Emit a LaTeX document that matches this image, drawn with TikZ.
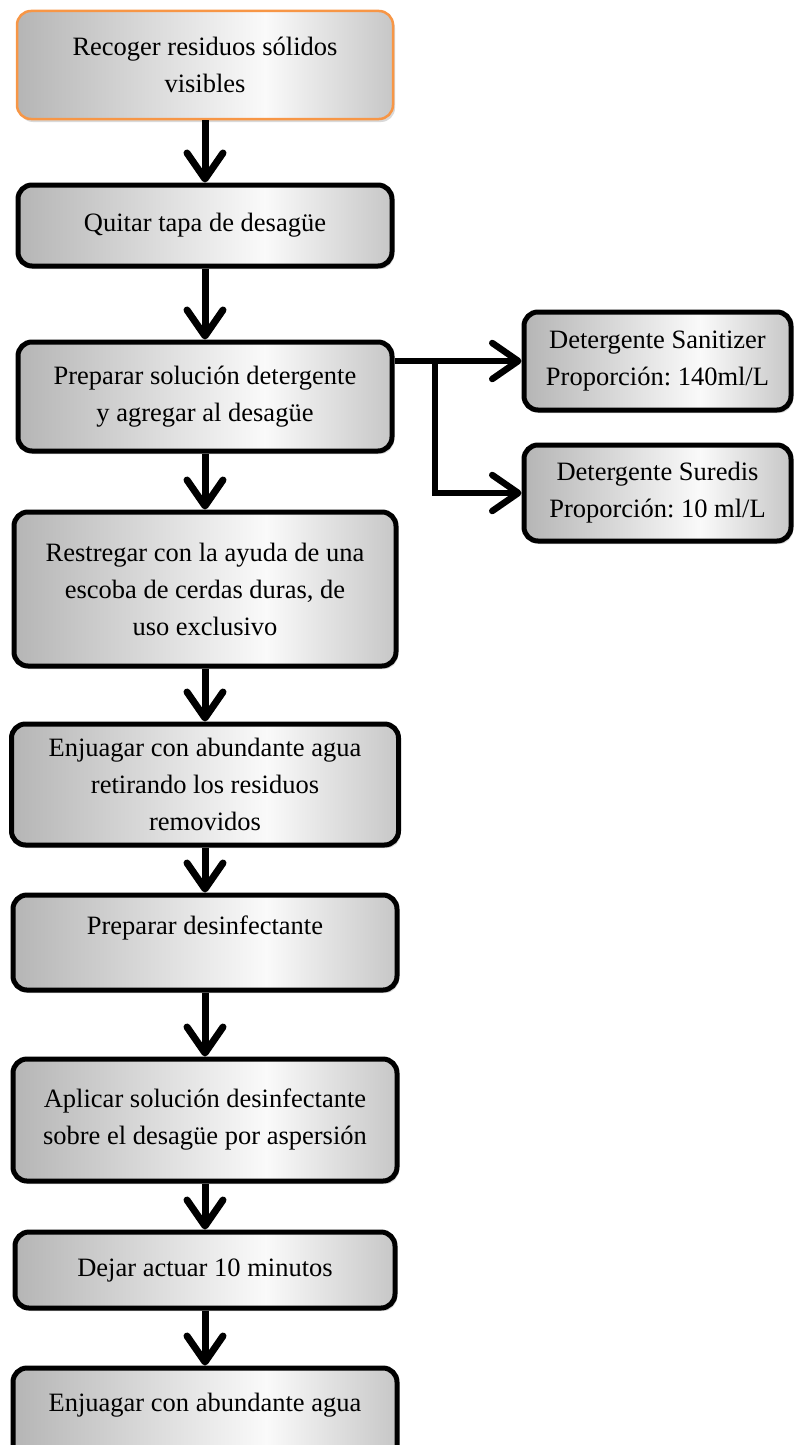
\documentclass[tikz,border=0pt]{standalone}
\usepackage{fontspec}
\setmainfont{Liberation Serif}
\usetikzlibrary{arrows.meta,shadows}
\definecolor{orangeborder}{RGB}{247,150,70}
\pgfdeclarehorizontalshading{metal}{100bp}{color(0bp)=(black!52); color(14bp)=(black!38); color(58bp)=(black!2); color(86bp)=(black!35); color(100bp)=(black!55)}
\frenchspacing
\begin{document}
\begin{tikzpicture}[x=1pt,y=-1pt,
  box/.style={draw=black,line width=5pt,rounded corners=14pt,shading=metal,
    drop shadow={opacity=0.3,shadow xshift=2pt,shadow yshift=-3pt},
    align=center,inner sep=0pt,font=\fontsize{26.5}{37}\selectfont},
  txt/.style={align=center,inner sep=0pt,font=\fontsize{26.5}{37}\selectfont},
  flow/.style={line width=7pt,-{Straight Barb[length=26pt,width=36pt,round]}},
  link/.style={line width=6.5pt}]
\useasboundingbox (0,0) rectangle (794,1445);
\clip (0,0) rectangle (794,1445);
\node[box,draw=orangeborder,line width=2.5pt,minimum width=376pt,minimum height=108pt] (b1) at (205,65) {Recoger residuos sólidos\\visibles};
\node[box,minimum width=374pt,minimum height=81pt] (b2) at (205,225.5) {Quitar tapa de desagüe};
\node[box,minimum width=374pt,minimum height=109pt] (b3) at (205,396.5) {Preparar solución detergente\\y agregar al desagüe};
\node[box,minimum width=382pt,minimum height=154pt] (b4) at (205,589) {Restregar con la ayuda de una\\escoba de cerdas duras, de\\uso exclusivo};
\node[box,minimum width=387pt,minimum height=121pt] (b5) at (205,784.5) {Enjuagar con abundante agua\\retirando los residuos\\removidos};
\node[box,minimum width=384pt,minimum height=95pt] (b6) at (205,942.5) {};
\node[txt] (t6) at (205,928) {Preparar desinfectante};
\node[box,minimum width=384pt,minimum height=122pt] (b7) at (205,1120) {Aplicar solución desinfectante\\sobre el desagüe por aspersión};
\node[box,minimum width=380pt,minimum height=76pt] (b8) at (205,1270) {Dejar actuar 10 minutos};
\node[box,minimum width=384pt,minimum height=100pt] (b9) at (205,1418) {};
\node[txt] (t9) at (205,1405) {Enjuagar con abundante agua};
\node[box,minimum width=267pt,minimum height=98pt] (s1) at (657.5,361) {Detergente Sanitizer\\Proporción: 140ml/L};
\node[box,minimum width=267pt,minimum height=96pt] (s2) at (657.5,493) {Detergente Suredis\\Proporción: 10 ml/L};
\draw[flow] (b1) -- (b2);
\draw[flow] (b2) -- (b3);
\draw[flow] (b3) -- (b4);
\draw[flow] (b4) -- (b5);
\draw[flow] (b5) -- (b6);
\draw[flow] (b6) -- (b7);
\draw[flow] (b7) -- (b8);
\draw[flow] (b8) -- (b9);
\coordinate (j) at (435,361);
\draw[flow,line width=6.5pt] (b3.east |- s1.west) -- (s1.west);
\draw[flow,line width=6.5pt] (j) |- (s2.west);
\end{tikzpicture}
\end{document}
